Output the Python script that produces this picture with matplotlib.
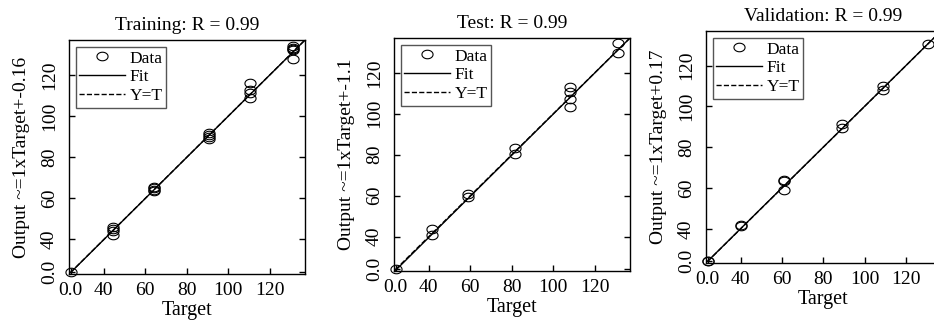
import numpy as np
import matplotlib
matplotlib.use('Agg')
import matplotlib.pyplot as plt
from matplotlib.path import Path

plt.rcParams['font.family'] = ['Liberation Serif', 'DejaVu Serif']

# training set
train_target = [0, 44.5, 44.5, 44.5, 44.5, 64, 64, 64, 64, 90.5, 90.5, 90.5, 90.5,
                110.5, 110.5, 110.5, 110.5, 131, 131, 131, 131, 131]
train_output = [0, 46, 45, 44, 42, 65.5, 65, 64, 63.5, 92, 91, 90, 89,
                116, 112.5, 111, 109, 134, 133, 132.5, 132, 128]

# test set
test_target = [0, 41.3, 41.3, 59, 59, 81.6, 81.6, 108, 108, 108, 108, 131, 131]
test_output = [0, 43.7, 40.8, 61, 59.4, 83.2, 80.3, 113.3, 110.7, 107.2, 103.5, 134.7, 129.6]

# validation set
val_target = [0, 0, 40, 40, 61, 61, 61, 89, 89, 109, 109, 130.5]
val_output = [0, 1, 41.5, 42, 64, 63.5, 59, 91.2, 89.3, 109.8, 108, 130.5]

titles = ['Training: R = 0.99', 'Test: R = 0.99', 'Validation: R = 0.99']
ylabels = ['Output ~=1xTarget+-0.16', 'Output ~=1xTarget+-1.1', 'Output ~=1xTarget+0.17']
fit_slope = [1.001, 1.008, 0.999]
fit_offset = [-0.16, -1.1, 0.17]
tick_vals = [0, 40, 60, 80, 100, 120]
tick_labels = ['0.0', '40', '60', '80', '100', '120']

# axes rectangles in pixels: left, bottom, right, top (measured from top)
W, H = 934, 325
boxes = [(69, 274, 305, 40), (394, 271, 630, 38), (706, 263, 941, 31)]


def fwd(v):
    v = np.asarray(v, dtype=float)
    return np.where(v < 40, 40 - (40 - v) * 0.4, v)


def inv(u):
    u = np.asarray(u, dtype=float)
    return np.where(u < 40, 40 - (40 - u) / 0.4, u)


t = np.linspace(0, 2 * np.pi, 60)
ellipse = Path(np.column_stack([1.3 * np.cos(t), np.sin(t)]), closed=True)

fig = plt.figure(figsize=(W / 100, H / 100), dpi=100)

data = [(train_target, train_output), (test_target, test_output), (val_target, val_output)]
for i, (tx, ty) in enumerate(data):
    l, b, r, tp = boxes[i]
    ax = fig.add_axes([l / W, 1 - b / H, (r - l) / W, (b - tp) / H])
    ax.set_xscale('function', functions=(fwd, inv))
    ax.set_yscale('function', functions=(fwd, inv))
    ax.set_xlim(-2, 137)
    ax.set_ylim(-2, 137)
    ax.plot(tx, ty, linestyle='none', marker=ellipse, markersize=8,
            markerfacecolor='none', markeredgecolor='black', markeredgewidth=0.8,
            label='Data', clip_on=False, zorder=3)
    ends = np.array([0, 137])
    ax.plot(ends, ends * fit_slope[i] + fit_offset[i], color='black', lw=1.0,
            label='Fit', zorder=2)
    ax.plot(ends, ends, color='black', lw=1.0, ls='--', label='Y=T', zorder=1)
    ax.set_xticks(tick_vals)
    ax.set_xticklabels(tick_labels)
    ax.set_yticks(tick_vals)
    ax.set_yticklabels(tick_labels, rotation=90, va='center')
    ax.minorticks_off()
    ax.tick_params(direction='in', length=4, width=1, labelsize=14,
                   left=True, right=True, bottom=True, top=False)
    ax.tick_params(axis='x', pad=6)
    ax.tick_params(axis='y', pad=8)
    ax.set_title(titles[i], fontsize=14, pad=7)
    ax.set_xlabel('Target', fontsize=14.5, labelpad=1)
    ax.set_ylabel(ylabels[i], fontsize=14, labelpad=8)
    for s in ax.spines.values():
        s.set_linewidth(1.0)
    leg = ax.legend(loc='upper left', fontsize=12.5, fancybox=False, framealpha=1,
                    edgecolor='#555555', borderaxespad=0.4, handlelength=2.6,
                    handletextpad=0.3, borderpad=0.2, labelspacing=0.15)
    leg.get_frame().set_linewidth(1.0)

fig.savefig('out.png', dpi=100)
